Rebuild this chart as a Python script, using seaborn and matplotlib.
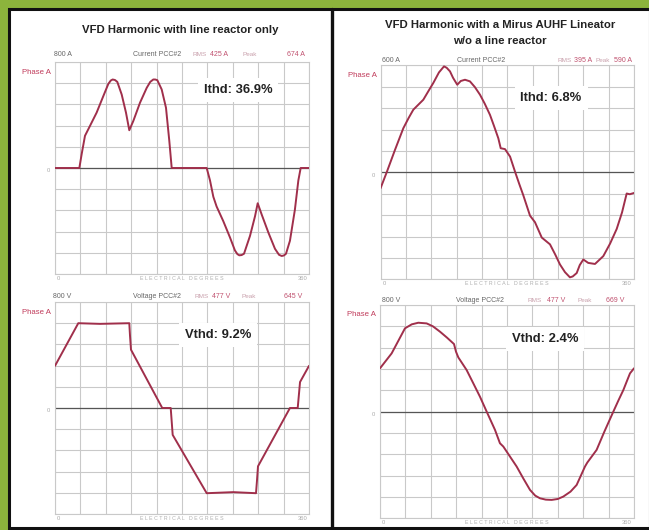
import matplotlib
matplotlib.use("Agg")
import matplotlib.pyplot as plt
import seaborn as sns
import pandas as pd
from matplotlib.patches import Rectangle
from matplotlib.lines import Line2D

# ---------------- data ----------------
# Left: VFD with line reactor only
lr_cur_deg = [0, 34.5, 37.8, 42.5, 49.6, 59, 68.5, 75.6, 79, 81.7, 85, 88.3, 94.5, 100.6, 105.3, 111,
              120.5, 130, 135, 139.3, 142, 145, 151.2, 157.3, 162, 165.4, 215, 219.7, 224.4, 229,
              238.5, 248, 255, 258.5, 261.2, 264.5, 267.9, 276.4, 283.5, 287.3, 293, 302.4, 311.8,
              317.5, 321.3, 324.5, 327.4, 333, 340, 344.9, 348.2, 360]
lr_cur_amp = [0, 0, 105, 243, 318, 418, 543, 635, 660, 668, 664, 650, 555, 418, 285, 355,
              493, 605, 650, 668, 668, 663, 593, 455, 205, 0, 0, -94, -217, -290,
              -401, -524, -622, -650, -659, -657, -647, -512, -364, -266, -352, -487, -610,
              -655, -664, -660, -647, -549, -315, -94, 0, 0]

lr_volt_deg = [0, 33, 63.8, 105.3, 106.3, 107.7, 152, 164, 165.4, 166.8, 215, 252.7, 284.9, 286.3,
               287.7, 333, 344, 347.3, 360]
lr_volt_v = [318, 640, 635, 640, 546, 440, 0, 0, -102, -203, -643, -635, -643, -546,
             -440, 0, 0, 196, 318]

# Right: VFD with Mirus AUHF Lineator, no line reactor
ln_cur_deg = [0, 8.8, 20.6, 32.4, 40, 46.6, 53.7, 60.8, 68, 75, 83, 90.2, 94, 98.7, 103, 109, 114,
              120, 127, 134, 141.3, 148, 155.5, 161, 167.3, 170.7, 176.8, 184, 191, 197, 202.8,
              212.3, 219.4, 229, 240.7, 248, 254.9, 262, 269, 273, 278.6, 283, 288, 295, 304.6,
              316.4, 326, 335.4, 343, 349.6, 354, 360]
ln_cur_amp = [-90, 0, 126, 247, 305, 351, 379, 407, 455, 501, 560, 594, 586, 566, 530, 491, 512,
              519, 510, 478, 435, 385, 322, 262, 191, 135, 130, 88, 4, -65, -129,
              -243, -280, -366, -404, -460, -517, -560, -589, -584, -565, -520, -489, -508, -514,
              -470, -400, -318, -225, -119, -123, -116]

ln_volt_deg = [0, 16.5, 35.4, 45, 54.3, 66.1, 75, 85, 95, 104.9, 107.7, 111, 122.8, 132, 141.7,
               151.2, 163, 170, 174.8, 184, 193.7, 203, 212.6, 220, 226.8, 235, 243.3, 252, 259.8,
               270, 278.7, 290.5, 293.8, 307, 318, 330.7, 338, 344.9, 349.6, 354.3, 360]
ln_volt_v = [325, 437, 625, 655, 667, 662, 640, 600, 555, 507, 450, 407, 312, 215, 112,
             0, -137, -237, -262, -335, -412, -500, -587, -630, -650, -660, -662, -655, -637,
             -600, -550, -412, -382, -287, -150, 0, 85, 162, 225, 287, 325]

titles_left = ["VFD Harmonic with line reactor only"]
titles_right = ["VFD Harmonic with a Mirus AUHF Lineator", "w/o a line reactor"]
thd_labels = ["Ithd: 36.9%", "Vthd: 9.2%", "Ithd: 6.8%", "Vthd: 2.4%"]
scales = ["800 A", "800 V", "600 A", "800 V"]
names = ["Current PCC#2", "Voltage PCC#2", "Current PCC#2", "Voltage PCC#2"]
rms_vals = ["425 A", "477 V", "395 A", "477 V"]
peak_vals = ["674 A", "645 V", "590 A", "669 V"]
ylims = [800, 800, 600, 800]

# ---------------- style ----------------
sns.set_style("white")
plt.rcParams['font.family'] = ['Liberation Sans', 'DejaVu Sans']

W, H = 649, 530
fig = plt.figure(figsize=(W / 100, H / 100), dpi=100)
fig.patch.set_facecolor('#8cb43c')


def fx(px):
    return px / W


def fy(py):
    return 1 - py / H


# white panel with black borders (drawn beneath the axes)
fig.patches.append(Rectangle((fx(9), fy(528)), fx(650) - fx(9), fy(9) - fy(528),
                             transform=fig.transFigure, facecolor='white',
                             edgecolor='#111111', linewidth=2.2, zorder=-10))
fig.lines.append(Line2D([fx(331.5), fx(331.5)], [fy(528), fy(9)], transform=fig.transFigure,
                        color='#111111', linewidth=2.4, zorder=-5))

LINE_C = '#a02f4b'
GRID_C = '#c9c9c9'

# axes rectangles in pixels: left, top, right, bottom
boxes = [(55, 62, 309, 274), (55, 302, 309, 514), (380.5, 65.3, 634, 279.3), (380, 305, 634, 518.3)]
datasets = [(lr_cur_deg, lr_cur_amp), (lr_volt_deg, lr_volt_v),
            (ln_cur_deg, ln_cur_amp), (ln_volt_deg, ln_volt_v)]
thd_pos = [(238, 90), (218, 335), (551, 98), (545, 339)]
# header text centres (px): scale, name, RMS, rms value, Peak, peak value; and row y
header_x = [(63, 157, 200, 219, 250, 296),
            (62, 157, 202, 221, 249, 293),
            (391, 481, 565, 583, 603, 623),
            (391, 480, 535, 556, 585, 615)]
header_y = [55, 296.5, 60, 300]
HFS = 5.0

for i, ((l, t, r, b), (xd, yd)) in enumerate(zip(boxes, datasets)):
    ax = fig.add_axes([fx(l), fy(b), fx(r) - fx(l), fy(t) - fy(b)])
    ax.set_facecolor('none')
    df = pd.DataFrame({"deg": xd, "val": yd})
    lim = ylims[i]
    ax.axhline(0, color='#555555', lw=0.9, zorder=2)
    sns.lineplot(data=df, x="deg", y="val", ax=ax, color=LINE_C, lw=1.4,
                 estimator=None, sort=False, zorder=3)
    ax.set_xlim(0, 360)
    ax.set_ylim(-lim, lim)
    ax.set_xticks([k * 36 for k in range(11)])
    ax.set_yticks([-lim + k * lim / 5 for k in range(11)])
    ax.grid(True, color=GRID_C, lw=0.8)
    ax.tick_params(length=0, labelbottom=False, labelleft=False)
    ax.set_xlabel("")
    ax.set_ylabel("")
    for s in ax.spines.values():
        s.set_color('#c9c9c9')
        s.set_linewidth(0.8)

    # header row
    hy = header_y[i]
    hx = header_x[i]
    fig.text(fx(hx[0]), fy(hy), scales[i], fontsize=HFS, color='#666666', va='center', ha='center')
    fig.text(fx(hx[1]), fy(hy), names[i], fontsize=HFS, color='#666666', va='center', ha='center')
    fig.text(fx(hx[2]), fy(hy), "RMS", fontsize=HFS - 0.4, color='#c9a0ac', va='center',
             ha='center')
    fig.text(fx(hx[3]), fy(hy), rms_vals[i], fontsize=HFS, color='#c0506e', va='center',
             ha='center')
    fig.text(fx(hx[4]), fy(hy), "Peak", fontsize=HFS - 0.4, color='#c9a0ac', va='center',
             ha='center')
    fig.text(fx(hx[5]), fy(hy), peak_vals[i], fontsize=HFS, color='#c0506e', va='center',
             ha='center')

    # Phase A label
    fig.text(fx(l - 4), fy(t + 10), "Phase A", fontsize=5.6, color='#c03a5a', ha='right',
             va='center')
    # zero label
    zy = (t + b) / 2
    fig.text(fx(l - 5), fy(zy + 3), "0", fontsize=4.2, color='#aaaaaa', ha='right', va='center')
    # bottom labels
    fig.text(fx(l + 2), fy(b + 4), "0", fontsize=4.2, color='#aaaaaa', ha='left', va='center')
    fig.text(fx((l + r) / 2), fy(b + 4), "E L E C T R I C A L   D E G R E E S", fontsize=3.8,
             color='#b0b0b0', ha='center', va='center')
    fig.text(fx(r - 2), fy(b + 4), "360", fontsize=4.2, color='#aaaaaa', ha='right', va='center')

    # THD label
    tx, ty = thd_pos[i]
    fig.text(fx(tx), fy(ty), thd_labels[i], fontsize=9.4, fontweight='bold', color='#222222',
             ha='center', va='center', zorder=5,
             bbox=dict(boxstyle='square,pad=0.45', facecolor='white', edgecolor='none'))

# titles
fig.text(fx(180), fy(30), titles_left[0], fontsize=8.2, fontweight='bold', color='#222222',
         ha='center', va='center')
fig.text(fx(500), fy(25), titles_right[0], fontsize=8.2, fontweight='bold', color='#222222',
         ha='center', va='center')
fig.text(fx(500), fy(41), titles_right[1], fontsize=8.2, fontweight='bold', color='#222222',
         ha='center', va='center')

fig.savefig("out.png", dpi=100, facecolor=fig.get_facecolor())
